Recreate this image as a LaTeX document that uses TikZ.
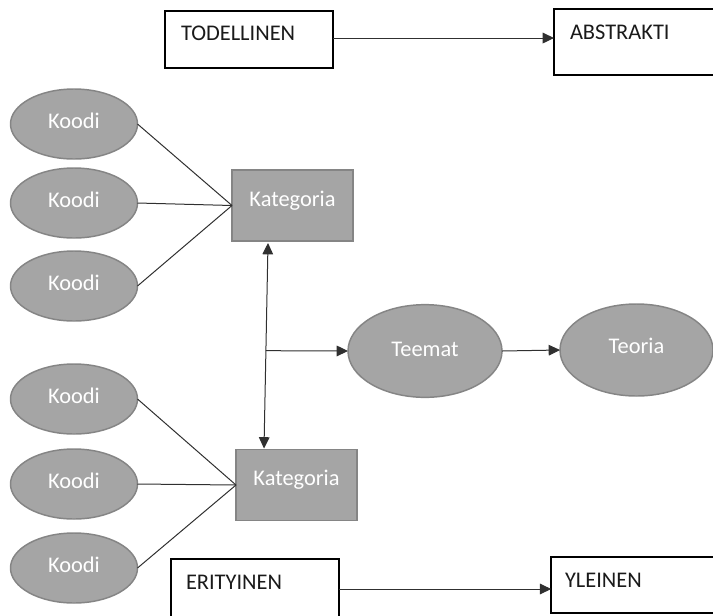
\documentclass[tikz,border=0pt]{standalone}
\usepackage{fontspec}
\setmainfont{Carlito}
\usetikzlibrary{arrows.meta,calc,shapes.geometric}
\definecolor{shapefill}{HTML}{A5A5A5}
\definecolor{shapeedge}{HTML}{858585}
\definecolor{linecol}{HTML}{303030}
\definecolor{textdark}{HTML}{1A1A1A}
\begin{document}
\begin{tikzpicture}[x=0.75pt,y=-0.75pt,
  every node/.style={font=\fontsize{16.8}{20}\selectfont, inner sep=0pt, outer sep=0pt},
  koodi/.style={ellipse, draw=shapeedge, line width=1.1pt, fill=shapefill, text=white,
    minimum width=95.25pt, minimum height=52.5pt, text depth=4.5pt},
  bigell/.style={ellipse, draw=shapeedge, line width=1.1pt, fill=shapefill, text=white,
    minimum width=115.5pt, minimum height=69.5pt},
  katbox/.style={rectangle, draw=shapeedge, line width=1.1pt, fill=shapefill, text=white,
    minimum width=90.75pt, minimum height=53.25pt, text depth=10.5pt},
  frame/.style={rectangle, draw=black, line width=1.4pt, fill=white},
  framelabel/.style={anchor=west, text=textdark},
  link/.style={draw=linecol, line width=0.75pt},
  arr/.style={draw=linecol, line width=0.75pt, -{Triangle[length=8.5pt,width=8pt]}},
  darr/.style={draw=linecol, line width=0.75pt, {Triangle[length=8.5pt,width=8pt]}-{Triangle[length=8.5pt,width=8pt]}}
]
\useasboundingbox (0,0) rectangle (713,615);
\clip (0,0) rectangle (713,615);

% top row
\node[frame, minimum width=126pt, minimum height=42.75pt] (tod) at (249,39.5) {};
\node[framelabel] (todt) at (181,33) {TODELLINEN};
\node[frame, minimum width=123pt, minimum height=49.5pt] (abs) at (636,42) {};
\node[framelabel] (abst) at (570,32) {ABSTRAKTI};
\draw[arr] ([yshift=1.1pt]tod.east) -- ([yshift=1.1pt]tod.east -| abs.west);

% top group
\node[koodi] (k1) at (74,124) {Koodi};
\node[koodi] (k2) at (74,203) {Koodi};
\node[koodi] (k3) at (74,286) {Koodi};
\node[katbox] (kat1) at (292.5,205.5) {Kategoria};
\draw[link] (k1.east) -- (kat1.west);
\draw[link] (k2.east) -- (kat1.west);
\draw[link] (k3.east) -- (kat1.west);

% bottom group
\node[koodi] (k4) at (74,399) {Koodi};
\node[koodi] (k5) at (74,484) {Koodi};
\node[koodi] (k6) at (74,568) {Koodi};
\node[katbox] (kat2) at (296.5,485) {Kategoria};
\draw[link] (k4.east) -- (kat2.west);
\draw[link] (k5.east) -- (kat2.west);
\draw[link] (k6.east) -- (kat2.west);

% themes and theory
\node[bigell, text depth=3pt] (teemat) at (425,351) {Teemat};
\node[bigell, minimum width=114.75pt, minimum height=69pt, text depth=6pt] (teoria) at (636.5,350) {Teoria};

\coordinate (vtop) at ($(kat1.south west)+(36,2)$);
\coordinate (vbot) at ($(kat2.north west)+(28,-1)$);
\draw[darr] (vtop) -- (vbot);
\coordinate (branch) at ($(vtop)!0.524!(vbot)$);
\draw[arr] (branch) -- (teemat.west);
\draw[arr] (teemat.east) -- (teoria.west);

% bottom row
\node[frame, minimum width=126pt, minimum height=49.5pt] (eri) at (255,592) {};
\node[framelabel] (erit) at (186,582) {ERITYINEN};
\node[frame, minimum width=125pt, minimum height=42pt] (yle) at (634.5,585) {};
\node[framelabel] (ylet) at (565,580) {YLEINEN};
\draw[arr] ([yshift=2.25pt]eri.east) -- ([yshift=2.25pt]eri.east -| yle.west);
\end{tikzpicture}
\end{document}
